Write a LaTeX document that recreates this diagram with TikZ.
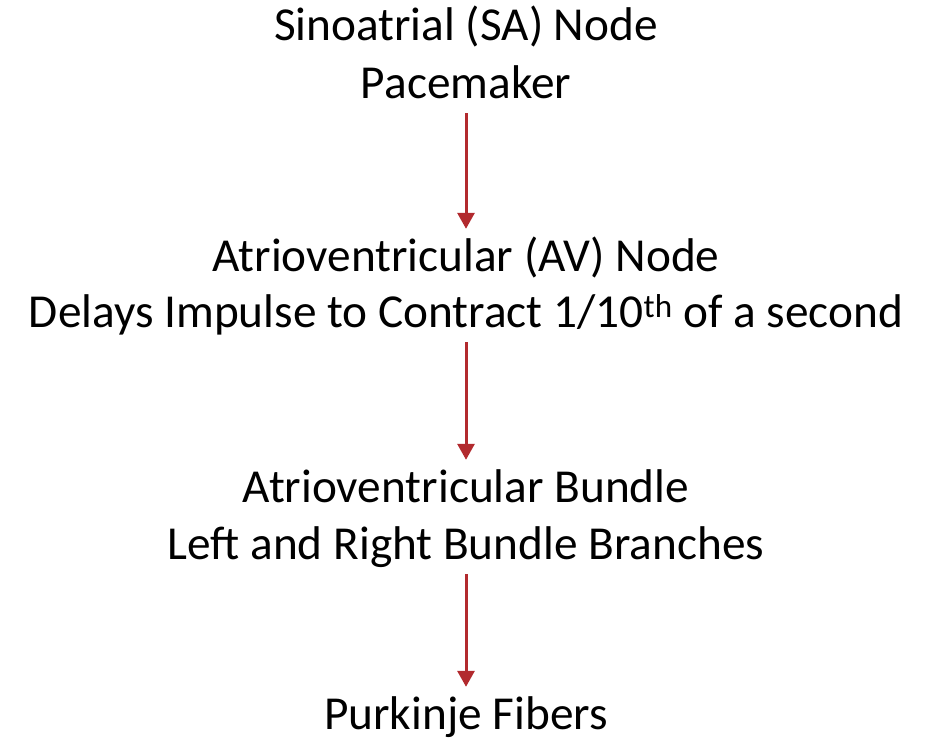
\documentclass[tikz,border=0pt]{standalone}
\usepackage{fontspec}
\setmainfont{Carlito}
\usetikzlibrary{arrows.meta}
\definecolor{arrowred}{RGB}{178,42,46}
\tikzset{
  txt/.style={inner sep=0pt, anchor=base, text height=34pt, text depth=10pt, font=\fontsize{47.3}{58}\selectfont},
  flow/.style={draw=arrowred, line width=3pt, -{Triangle[width=17pt,length=16pt]}, shorten <=5pt, shorten >=8pt}
}
\begin{document}
\begin{tikzpicture}[x=1pt,y=-1pt]
\useasboundingbox (0,0) rectangle (932,739);
\node[txt] (sa1) at (466,40) {Sinoatrial (SA) Node};
\node[txt] (sa2) at (466,98) {Pacemaker};
\node[txt] (av1) at (466,271) {Atrioventricular (AV) Node};
\node[txt] (av2) at (466,327) {Delays Impulse to Contract 1/10\textsuperscript{th} of a second};
\node[txt] (ab1) at (466,502) {Atrioventricular Bundle};
\node[txt] (ab2) at (466,559) {Left and Right Bundle Branches};
\node[txt] (pf) at (466,729) {Purkinje Fibers};
\draw[flow] (sa2.south) -- (av1.north);
\draw[flow] (av2.south) -- (ab1.north);
\draw[flow] (ab2.south) -- (pf.north);
\end{tikzpicture}
\end{document}
